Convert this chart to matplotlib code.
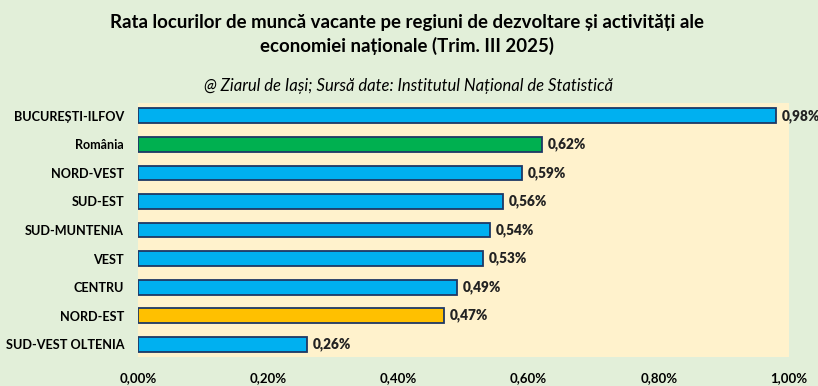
import matplotlib
matplotlib.use("Agg")
import matplotlib.pyplot as plt
from matplotlib.ticker import FuncFormatter

categories = ["BUCUREȘTI-ILFOV", "România", "NORD-VEST", "SUD-EST", "SUD-MUNTENIA",
              "VEST", "CENTRU", "NORD-EST", "SUD-VEST OLTENIA"]
values = [0.98, 0.62, 0.59, 0.56, 0.54, 0.53, 0.49, 0.47, 0.26]
colors = ["#00B0F0", "#00B050", "#00B0F0", "#00B0F0", "#00B0F0",
          "#00B0F0", "#00B0F0", "#FFC000", "#00B0F0"]
xticks = [0.0, 0.2, 0.4, 0.6, 0.8, 1.0]

plt.rcParams['font.family'] = ['Lato', 'DejaVu Sans']

fig = plt.figure(figsize=(8.18, 3.86), dpi=100)
fig.patch.set_facecolor("#E2EFD9")
ax = fig.add_axes([0.1687, 0.0751, 0.7958, 0.658])
ax.set_facecolor("#FFF2CC")

y = list(range(len(categories)))
ax.barh(y, values, height=0.52, color=colors, edgecolor="#1F3864", linewidth=1.3)
for yi, v in zip(y, values):
    ax.text(v + 0.009, yi, f"{v:.2f}%".replace(".", ","), va="center", ha="left",
            fontsize=9.8, fontweight="heavy", color="#222222")

ax.set_ylim(len(categories) - 0.55, -0.45)
ax.set_xlim(0, 1.0)
ax.set_yticks(y)
ax.set_yticklabels(categories, fontsize=9.1, fontweight="bold")
ax.set_xticks(xticks)
ax.xaxis.set_major_formatter(FuncFormatter(lambda x, p: f"{x:.2f}%".replace(".", ",")))
for lab in ax.get_xticklabels():
    lab.set_fontweight("bold")
    lab.set_fontsize(9.5)
ax.tick_params(length=0)
ax.tick_params(axis="y", pad=10)
ax.tick_params(axis="x", pad=11)
for s in ax.spines.values():
    s.set_visible(False)

fig.text(0.497, 0.942, "Rata locurilor de muncă vacante pe regiuni de dezvoltare și activități ale",
         ha="center", va="center", fontsize=13.4, fontweight="bold")
fig.text(0.497, 0.880, "economiei naționale (Trim. III 2025)",
         ha="center", va="center", fontsize=13.4, fontweight="bold")
fig.text(0.499, 0.776, "@ Ziarul de Iași; Sursă date: Institutul Național de Statistică",
         ha="center", va="center", fontsize=12, style="italic")

fig.savefig("out.png", dpi=100, facecolor=fig.get_facecolor())
